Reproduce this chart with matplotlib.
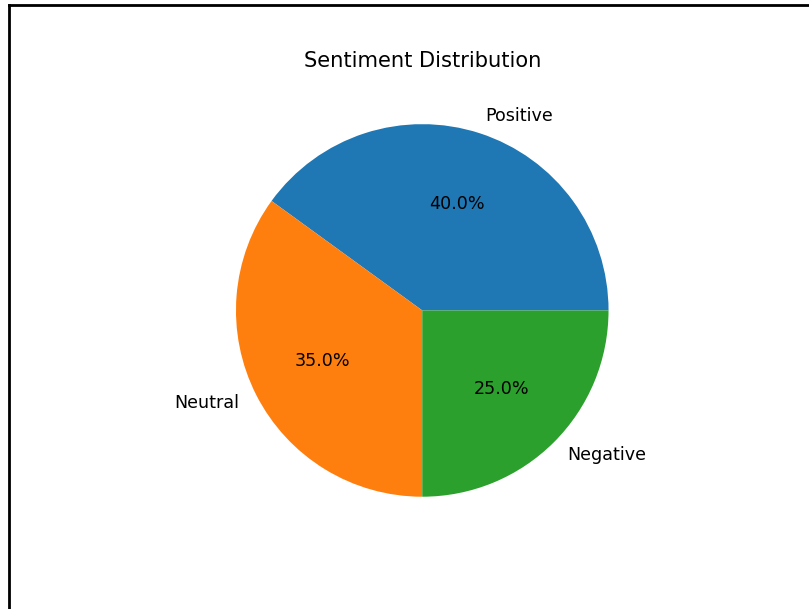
import matplotlib
matplotlib.use("Agg")
import matplotlib.pyplot as plt
from matplotlib.lines import Line2D

labels = ["Positive", "Neutral", "Negative"]
sizes = [40, 35, 25]

W, H, DPI = 809, 609, 126
fig = plt.figure(figsize=(W / DPI, H / DPI), dpi=DPI)

# axes placed where a default 640x480 figure (scaled 1.26, offset by the border) puts it
ax = fig.add_axes([0.1357, 0.1079, 0.7725, 0.7647])
ax.pie(sizes, labels=labels, autopct="%1.1f%%")
ax.set_title("Sentiment Distribution")

# screenshot border on the left and top
fig.add_artist(Line2D([9 / W, 9 / W], [0, 1 - 5 / H], color="black", lw=1.6,
                      transform=fig.transFigure))
fig.add_artist(Line2D([9 / W, 1], [1 - 5 / H, 1 - 5 / H], color="black", lw=1.6,
                      transform=fig.transFigure))

fig.savefig("out.png", dpi=DPI)
